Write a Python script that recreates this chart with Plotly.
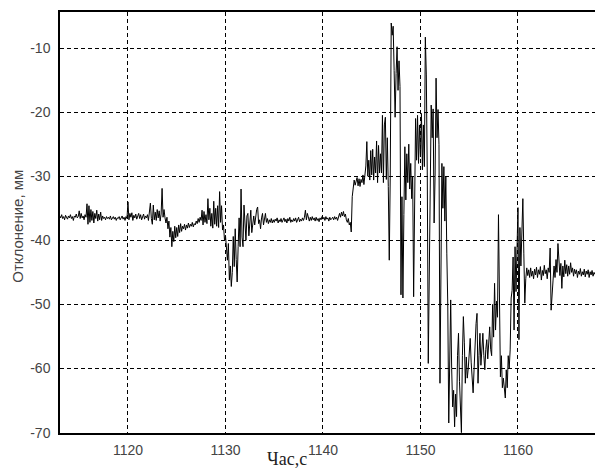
import plotly.graph_objects as go

# sample times: start 1113.0 s, step 0.1 s
t_start = 1113.0
t_step = 0.1

# deviation (mm), one row per second
dev = [
    # 1113
    -36.2, -36.5, -36.0, -36.6, -36.3, -36.8, -36.1, -36.4, -36.7, -36.2,
    # 1114
    -36.5, -36.0, -36.6, -36.3, -36.9, -36.2, -36.4, -35.9, -36.5, -36.3,
    # 1115
    -35.4, -36.6, -35.8, -36.5, -36.2, -36.8, -36.0, -36.4, -34.3, -37.5,
    # 1116
    -34.6, -37.2, -35.2, -36.9, -35.5, -37.3, -35.8, -36.6, -35.3, -37.0,
    # 1117
    -35.9, -36.8, -35.6, -36.9, -36.2, -36.6, -36.4, -36.8, -36.3, -36.6,
    # 1118
    -36.4, -36.7, -36.2, -36.8, -36.5, -36.3, -36.7, -36.4, -36.9, -36.5,
    # 1119
    -36.6, -36.3, -36.8, -36.5, -36.2, -36.7, -36.4, -36.9, -36.3, -36.6,
    # 1120
    -34.0, -36.8, -35.8, -36.4, -35.7, -36.9, -36.1, -36.5, -35.9, -36.7,
    # 1121
    -36.2, -35.8, -36.6, -36.0, -36.8, -36.3, -35.9, -36.7, -36.2, -36.5,
    # 1122
    -36.0, -36.9, -35.8, -34.2, -36.6, -37.5, -34.5, -36.8, -35.6, -36.9,
    # 1123
    -35.2, -36.5, -35.4, -37.0, -35.9, -31.9, -36.4, -35.2, -36.5, -37.3,
    # 1124
    -36.4, -38.2, -37.0, -39.5, -38.0, -41.0, -38.6, -40.2, -37.8, -39.6,
    # 1125
    -38.0, -39.4, -37.6, -38.8, -37.4, -38.6, -37.8, -38.2, -37.5, -38.4,
    # 1126
    -37.6, -38.1, -37.3, -38.0, -37.5, -37.8, -37.2, -37.9, -37.4, -37.6,
    # 1127
    -37.0, -37.4, -36.6, -37.2, -36.4, -36.9, -35.3, -37.6, -35.5, -37.2,
    # 1128
    -36.0, -37.4, -33.5, -36.8, -35.0, -37.8, -35.8, -38.1, -33.9, -37.5,
    # 1129
    -35.0, -37.8, -34.6, -38.0, -32.4, -37.2, -34.6, -38.4, -37.6, -40.0,
    # 1130
    -39.2, -41.5, -43.1, -40.5, -46.2, -44.0, -47.2, -45.0, -39.4, -44.1,
    # 1131
    -38.2, -43.0, -46.5, -41.0, -36.5, -41.0, -32.0, -39.5, -41.0, -34.5,
    # 1132
    -37.8, -40.0, -36.2, -35.8, -39.3, -36.5, -35.3, -38.8, -37.6, -36.2,
    # 1133
    -37.6, -36.0, -35.2, -34.8, -37.4, -36.8, -38.2, -36.5, -35.8, -37.6,
    # 1134
    -36.4, -35.8, -37.2, -36.6, -37.4, -36.8, -37.2, -36.6, -37.3, -36.8,
    # 1135
    -37.2, -36.7, -37.0, -36.5, -37.3, -36.8, -37.1, -36.6, -37.2, -36.9,
    # 1136
    -36.5, -37.1, -36.7, -37.3, -36.6, -37.0, -36.4, -37.2, -36.8, -37.1,
    # 1137
    -36.6, -37.0, -36.5, -37.2, -36.8, -36.4, -37.1, -36.7, -37.0, -36.5,
    # 1138
    -36.9, -36.4, -35.3, -36.8, -35.8, -36.6, -37.0, -36.4, -36.9, -36.3,
    # 1139
    -36.8, -36.5, -37.0, -36.4, -36.9, -36.6, -37.1, -36.5, -36.8, -36.3,
    # 1140
    -36.7, -36.4, -36.9, -36.3, -36.7, -36.5, -37.0, -36.4, -36.8, -36.6,
    # 1141
    -36.4, -36.8, -36.3, -36.7, -36.4, -36.9, -36.5, -35.8, -36.4, -35.6,
    # 1142
    -36.2, -35.5, -36.3, -35.9, -36.8, -37.2, -36.6, -37.6, -37.2, -38.7,
    # 1143
    -33.2, -31.8, -30.6, -31.4, -30.8, -30.2, -31.5, -30.4, -31.6, -30.5,
    # 1144
    -31.0, -29.8, -31.3, -30.2, -28.4, -24.6, -30.0, -27.5, -30.6, -26.0,
    # 1145
    -29.8, -25.8, -30.6, -27.0, -29.5, -24.5, -31.0, -25.2, -29.5, -26.5,
    # 1146
    -29.5, -20.5, -31.0, -22.0, -20.8, -30.5, -24.0, -31.6, -43.1, -30.0,
    # 1147
    -6.1, -8.0, -6.6, -13.5, -20.8, -14.0, -9.8, -16.6, -12.0, -16.0,
    # 1148
    -48.5, -33.2, -49.0, -36.0, -25.4, -33.7, -26.5, -31.0, -25.0, -32.0,
    # 1149
    -28.0, -33.5, -30.0, -48.8, -30.0, -21.0, -27.5, -20.5, -28.0, -22.0,
    # 1150
    -27.0, -20.2, -29.0, -22.0, -28.5, -8.3, -14.2, -30.0, -59.2, -45.0,
    # 1151
    -36.5, -18.9, -24.0, -19.5, -37.3, -30.0, -14.7, -24.0, -19.6, -25.1,
    # 1152
    -62.3, -48.0, -28.0, -35.0, -28.5, -37.0, -30.0, -42.0, -50.0, -68.5,
    # 1153
    -55.0, -49.3, -60.0, -66.0, -63.4, -69.1, -64.0, -67.5, -58.0, -54.5,
    # 1154
    -62.0, -66.5, -70.0, -58.0, -51.9, -56.0, -62.3, -58.2, -61.5, -60.0,
    # 1155
    -57.0, -55.3, -59.0, -61.0, -63.8, -60.0, -55.0, -53.0, -51.4, -62.3,
    # 1156
    -58.0, -54.5, -59.5, -56.0, -54.5, -58.0, -60.2, -57.0, -55.5, -58.5,
    # 1157
    -56.0, -53.5, -57.0, -58.0, -50.0, -55.1, -46.7, -54.0, -49.5, -52.0,
    # 1158
    -36.0, -50.0, -61.3, -58.0, -63.0, -61.5, -64.0, -64.6, -60.2, -63.0,
    # 1159
    -58.0, -60.0, -57.1, -49.0, -47.8, -42.6, -54.0, -41.0, -48.0, -40.0,
    # 1160
    -34.9, -55.5, -38.0, -44.0, -36.0, -33.5, -42.0, -49.8, -46.0, -44.3,
    # 1161
    -45.5, -44.6, -45.8, -44.3, -45.6, -44.8, -46.0, -44.5, -45.4, -44.2,
    # 1162
    -45.8, -44.6, -45.3, -44.1, -46.2, -44.7, -45.5, -43.9, -45.2, -44.6,
    # 1163
    -46.0, -44.3, -45.0, -41.2, -50.9, -47.5, -46.2, -44.0, -45.8, -43.0,
    # 1164
    -45.0, -40.5, -44.5, -45.5, -43.6, -47.5, -44.0, -45.7, -43.1, -45.2,
    # 1165
    -43.8, -45.6, -44.0, -45.3, -43.5, -45.0, -44.3, -45.6, -44.5, -45.2,
    # 1166
    -44.6, -45.8, -44.8, -45.3, -44.4, -45.6, -44.9, -45.4, -44.5, -45.7,
    # 1167
    -44.8, -45.3, -44.6, -45.8, -44.9, -45.4, -44.7, -45.6, -45.0, -45.3,
    # 1168
    -44.8,
]

time_s = [round(t_start + i * t_step, 1) for i in range(len(dev))]

x_ticks = [1120, 1130, 1140, 1150, 1160]
x_tick_text = ["1120", "1130", "1140", "1150", "1160"]
y_ticks = [-70, -60, -50, -40, -30, -20, -10]
y_tick_text = ["-70", "-60", "-50", "-40", "-30", "-20", "-10"]

fig = go.Figure()
fig.add_trace(go.Scatter(
    x=time_s, y=dev, mode="lines",
    line=dict(color="black", width=1),
    showlegend=False, hoverinfo="skip",
))

tick_font = dict(family="Liberation Sans, Arial, sans-serif", size=14, color="#444444")

fig.update_layout(
    width=595, height=471,
    margin=dict(l=60, r=0, t=12, b=38),
    paper_bgcolor="white", plot_bgcolor="white",
    xaxis=dict(
        range=[1113.03, 1167.9],
        tickvals=x_ticks, ticktext=x_tick_text,
        showgrid=True, gridcolor="black", gridwidth=1, griddash="4px,3px",
        showline=True, linecolor="black", linewidth=1.5, mirror=True,
        zeroline=False, ticks="", tickfont=tick_font,
        ticklabelstandoff=3,
    ),
    yaxis=dict(
        range=[-70.06, -4.38],
        tickvals=y_ticks, ticktext=y_tick_text,
        showgrid=True, gridcolor="black", gridwidth=1, griddash="4px,3px",
        showline=True, linecolor="black", linewidth=1.5, mirror=False,
        zeroline=False, ticks="", tickfont=tick_font,
        ticklabelstandoff=5,
    ),
    annotations=[
        dict(text="Отклонение, мм", xref="paper", yref="paper",
             x=(18 - 60) / 535, y=0.49, textangle=-90, showarrow=False,
             xanchor="center", yanchor="middle",
             font=dict(family="Liberation Sans, Arial, sans-serif", size=15, color="#444444")),
        dict(text="Час,с", xref="paper", yref="paper",
             x=(287 - 60) / 535, y=(433 - 470) / 421, showarrow=False,
             xanchor="center", yanchor="bottom", borderpad=0,
             font=dict(family="Liberation Serif, Times New Roman, serif", size=18, color="#222222")),
    ],
)

fig.write_html("out.html")
